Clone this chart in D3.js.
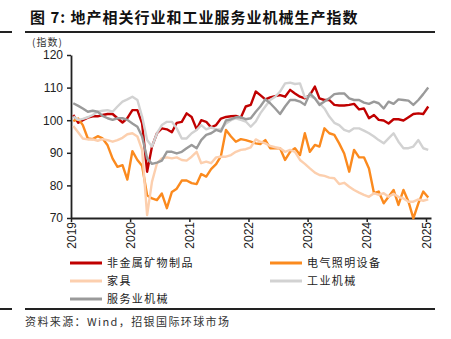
<!DOCTYPE html>
<html>
<head>
<meta charset="utf-8">
<script src="https://cdn.jsdelivr.net/npm/d3@7"></script>
<style>
  body { margin: 0; background: #fff; }
  svg { display: block; }
  .cjk { font-family: "Noto Sans CJK SC", sans-serif; }
  .num { font-family: "Liberation Sans", Arial, sans-serif; }
</style>
</head>
<body>
<div id="chart"></div>
<script>
"use strict";

// monthly, Jan 2019 .. Jan 2025
var startMonth = new Date(2019, 0, 15),
  nMonths = 73;

var yTicks = [70, 80, 90, 100, 110, 120];
var xTickYears = [2019, 2020, 2021, 2022, 2023, 2024, 2025];

var seriesNames = ["非金属矿物制品", "电气照明设备", "家具", "工业机械", "服务业机械"];
var seriesColors = ["#C00000", "#FB8A1E", "#FCCFAE", "#D2D2D2", "#9A9A9A"];

var nonMetal = [
  101.6, 99.2, 100, 100.8, 101.2, 101.2, 101.6, 101.9, 101.9, 100.6, 99.3, 100.6,
  103.1, 103.1, 99, 84.2, 91.9, 96, 97.5, 97.2, 96.3, 99.2, 99.5, 102.1,
  101, 97.2, 100, 99.5, 97.8, 98.5, 100.5, 101, 101.2, 101.3, 100.8, 104.2,
  104.7, 108.8, 107.7, 106.4, 107, 107.4, 107.7, 107.2, 109.3, 108.2, 107.2, 106.7,
  107.7, 110.3, 106.7, 106.2, 106.2, 104.7, 104.5, 104.5, 104.7, 105, 103.3, 103.6,
  100.6, 101.6, 100.1, 99.9, 99, 100.3, 100.3, 99.9, 100.9, 101.9, 102.1, 101.9,
  104.2
];
var lighting = [
  99.7, 100.5, 98.5, 94.4, 94.2, 95.1, 94.4, 92.3, 88.2, 85.7, 86.2, 81.8,
  90.5, 87.8, 86, 77, 76, 75.5, 77.5, 73, 78, 79, 81.5, 81.5,
  80.7, 80.4, 83.5, 82.7, 85, 86.5, 89, 97, 95, 93.4, 94.2, 93.9,
  93.4, 92.9, 92.7, 93.9, 91.4, 91.4, 91.4, 87.8, 90.3, 91.4, 89.3, 96,
  90.3, 92.4, 91.9, 97.5, 96, 95.5, 92.9, 89.8, 84.2, 90.9, 88.6, 88.6,
  85.2, 77.6, 78.1, 74.5, 76.5, 78.6, 74, 78.6, 75, 69.9, 74.5, 78.1,
  76.3
];
var furniture = [
  98.2, 96.2, 94.4, 94.1, 94.1, 93.7, 94.2, 93.9, 93.4, 93.9, 94.6, 95.7,
  96, 95, 90.9, 70.9, 81.1, 86.8, 88.3, 88.6, 88.3, 88.6, 87.8, 87.6,
  88.8, 90.3, 86.8, 87.3, 86.8, 88.6, 88.8, 88.8, 89.3, 90.3, 90.9, 91.1,
  91.7, 94.1, 93.4, 92.9, 92.1, 91.7, 91.4, 90.3, 90.9, 90.3, 87.8, 86.6,
  85.2, 83.9, 83.2, 82.9, 82.4, 82.2, 80.4, 80.8, 79.6, 78.6, 77.8, 77.1,
  76.5, 77.6, 77.1, 77.6, 76.5, 77.4, 76.5, 76, 75, 75, 75.7, 75.3,
  75.7
];
var industrialMach = [
  101.1, 100.1, 100.4, 100.9, 101.6, 102.6, 102.9, 103.1, 102.6, 104.2, 105.7, 106.4,
  107.2, 106.2, 101.1, 93.9, 91.9, 96, 98.5, 99.5, 99.5, 97.5, 94.4, 94.4,
  96, 97, 98.5, 97.2, 97.8, 97.2, 97.2, 99, 100, 100.6, 100.1, 99.6,
  98, 99.6, 102.1, 104.2, 106.2, 107.2, 108.8, 111.3, 111.5, 111.1, 111.3, 107,
  107.4, 106.7, 105.2, 103.6, 101.1, 99.2, 98.5, 97, 96.5, 97.5, 97.5, 96.8,
  96, 95, 93.9, 92.9, 94.4, 96, 93.4, 91.4, 91.4, 91.9, 93.9, 91.4,
  90.9
];
var serviceMach = [
  105.2, 104.4, 103.6, 102.6, 102.9, 102.6, 101.3, 100.6, 100.1, 100.6, 100.6, 100.1,
  99, 98, 95, 88.3, 86.6, 87, 87.6, 90.3, 90.3, 89.8, 90.3, 91.4,
  92.4, 91.4, 93.9, 95.5, 96, 97, 96.5, 99.9, 100.3, 100.9, 100.9, 100.3,
  100.6, 102.6, 104.2, 106.4, 105.2, 103.6, 101.9, 104.2, 106.2, 106.2, 105.7, 104.7,
  108.2, 106.7, 104.7, 105.7, 106.7, 108, 108.2, 108.2, 106.7, 106.2, 106.2, 105.4,
  105, 105.7, 105.2, 103.6, 105.7, 105, 106.4, 106.2, 106, 104.7, 106.2, 108,
  110
];

var seriesValues = [nonMetal, lighting, furniture, industrialMach, serviceMach];

var W = 451, H = 339;
var svg = d3.select("#chart").append("svg").attr("width", W).attr("height", H);

var dates = d3.range(nMonths).map(function(i) { return d3.timeMonth.offset(startMonth, i); });

var x = d3.scaleTime()
  .domain([new Date(2019, 0, 1), new Date(2025, 1, 1)])
  .range([71, 431]);
var y = d3.scaleLinear().domain([70, 120]).range([218, 55]);

// title + rules
svg.append("text")
  .attr("class", "cjk")
  .attr("x", 30).attr("y", 23)
  .attr("font-size", 15).attr("font-weight", "bold")
  .attr("letter-spacing", 1)
  .attr("fill", "#111")
  .text("图 7: 地产相关行业和工业服务业机械生产指数");

[32, 309].forEach(function(ry) {
  svg.append("line").attr("x1", 0).attr("x2", 12).attr("y1", ry).attr("y2", ry)
    .attr("stroke", "#222").attr("stroke-width", 2);
  svg.append("line").attr("x1", 25).attr("x2", 435).attr("y1", ry).attr("y2", ry)
    .attr("stroke", "#222").attr("stroke-width", 2);
});

svg.append("text")
  .attr("class", "cjk")
  .attr("x", 32).attr("y", 45.5)
  .attr("font-size", 10).attr("letter-spacing", 1)
  .attr("fill", "#333")
  .text("(指数)");

// axes
var yAxis = svg.append("g")
  .attr("class", "num")
  .attr("transform", "translate(71,0)")
  .call(d3.axisLeft(y).tickValues(yTicks).tickSize(4).tickPadding(4).tickSizeOuter(0));
yAxis.selectAll("text").attr("font-size", 12).attr("fill", "#222").attr("font-family", "Liberation Sans, Arial, sans-serif");
yAxis.selectAll("line").attr("stroke", "#222").attr("stroke-width", 1.5);
yAxis.select(".domain").attr("stroke", "#222").attr("stroke-width", 1.8);

var xAxis = svg.append("g")
  .attr("transform", "translate(0,218)")
  .call(d3.axisBottom(x)
    .tickValues(xTickYears.map(function(yr) { return new Date(yr, 0, 1); }))
    .tickFormat(d3.timeFormat("%Y"))
    .tickSize(4).tickSizeOuter(0));
xAxis.selectAll("line").attr("stroke", "#222").attr("stroke-width", 1.5);
xAxis.select(".domain").attr("stroke", "#222").attr("stroke-width", 1.8);
xAxis.selectAll("text")
  .attr("font-size", 12).attr("fill", "#222")
  .attr("font-family", "Liberation Sans, Arial, sans-serif")
  .attr("transform", "rotate(-90)")
  .attr("text-anchor", "end")
  .attr("x", -4).attr("y", 0).attr("dy", "0.35em");

// lines
var line = d3.line()
  .x(function(d, i) { return x(dates[i]); })
  .y(function(d) { return y(d); });

seriesValues.forEach(function(vals, k) {
  svg.append("path")
    .datum(vals)
    .attr("fill", "none")
    .attr("stroke", seriesColors[k])
    .attr("stroke-width", 2.4)
    .attr("stroke-linejoin", "round")
    .attr("d", line);
});

// legend
var legendPos = [[70, 263], [270, 263], [70, 281], [270, 281], [70, 299]];
seriesNames.forEach(function(name, k) {
  var p = legendPos[k];
  svg.append("line")
    .attr("x1", p[0]).attr("x2", p[0] + 32)
    .attr("y1", p[1]).attr("y2", p[1])
    .attr("stroke", seriesColors[k]).attr("stroke-width", 3);
  svg.append("text")
    .attr("class", "cjk")
    .attr("x", p[0] + 37).attr("y", p[1] + 4)
    .attr("font-size", 11).attr("letter-spacing", 1.4)
    .attr("fill", "#222")
    .text(name);
});

svg.append("text")
  .attr("class", "cjk")
  .attr("x", 25).attr("y", 326)
  .attr("font-size", 11).attr("letter-spacing", 1.4)
  .attr("fill", "#333")
  .text("资料来源：Wind，招银国际环球市场");
</script>
</body>
</html>
